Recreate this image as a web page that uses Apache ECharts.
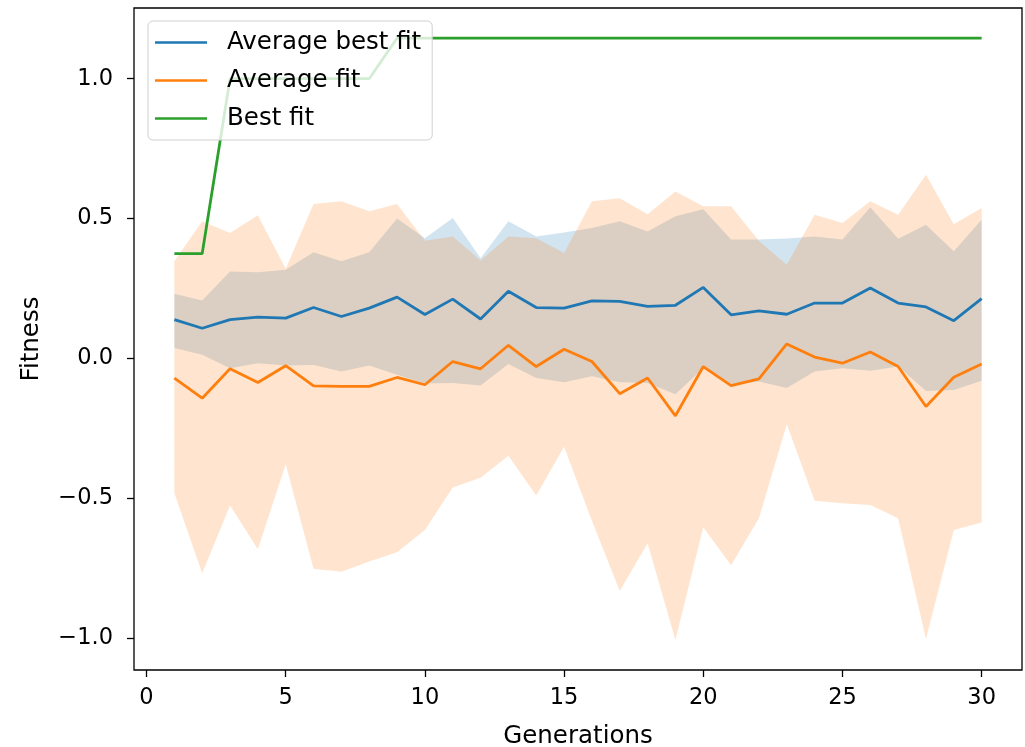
<!DOCTYPE html>
<html>
<head>
<meta charset="utf-8">
<script src="https://cdn.jsdelivr.net/npm/echarts@6/dist/echarts.min.js"></script>
<style>
html,body{margin:0;padding:0;background:#fff;}
#chart{width:1025px;height:747px;}
</style>
</head>
<body>
<div id="chart"></div>
<script>
const generations = [1,2,3,4,5,6,7,8,9,10,11,12,13,14,15,16,17,18,19,20,21,22,23,24,25,26,27,28,29,30];
const avgBest = [0.139,0.108,0.139,0.148,0.144,0.182,0.150,0.180,0.219,0.157,0.212,0.141,0.240,0.182,0.180,0.206,0.204,0.186,0.190,0.254,0.156,0.170,0.158,0.198,0.198,0.252,0.198,0.184,0.135,0.214];
const avgBestHigh = [0.231,0.207,0.311,0.308,0.317,0.380,0.347,0.380,0.500,0.430,0.502,0.358,0.490,0.436,0.450,0.466,0.490,0.454,0.508,0.533,0.425,0.425,0.429,0.436,0.425,0.540,0.428,0.478,0.383,0.496];
const avgBestLow = [0.037,0.013,-0.035,-0.017,-0.025,-0.023,-0.047,-0.025,-0.058,-0.090,-0.088,-0.097,-0.020,-0.070,-0.085,-0.064,-0.085,-0.088,-0.128,-0.035,-0.094,-0.082,-0.106,-0.047,-0.035,-0.044,-0.029,-0.116,-0.113,-0.080];
const avgFit = [-0.070,-0.142,-0.037,-0.086,-0.026,-0.098,-0.100,-0.100,-0.068,-0.094,-0.011,-0.037,0.047,-0.029,0.033,-0.011,-0.126,-0.070,-0.205,-0.029,-0.097,-0.073,0.052,0.005,-0.017,0.023,-0.029,-0.172,-0.067,-0.020];
const avgFitHigh = [0.347,0.490,0.448,0.512,0.321,0.552,0.562,0.526,0.552,0.421,0.436,0.350,0.436,0.430,0.377,0.562,0.573,0.515,0.597,0.544,0.544,0.420,0.335,0.514,0.484,0.562,0.514,0.657,0.480,0.538];
const avgFitLow = [-0.482,-0.768,-0.526,-0.682,-0.378,-0.752,-0.762,-0.726,-0.693,-0.613,-0.461,-0.426,-0.348,-0.490,-0.316,-0.580,-0.831,-0.661,-1.006,-0.603,-0.739,-0.571,-0.235,-0.509,-0.518,-0.524,-0.571,-1.003,-0.613,-0.586];
const bestFit = [0.375,0.375,1.0,1.0,1.0,1.0,1.0,1.0,1.145,1.145,1.145,1.145,1.145,1.145,1.145,1.145,1.145,1.145,1.145,1.145,1.145,1.145,1.145,1.145,1.145,1.145,1.145,1.145,1.145,1.145];
const xTicks = [0,5,10,15,20,25,30];
const yTicks = [-1.0,-0.5,0.0,0.5,1.0];

const BLUE = '#1f77b4', ORANGE = '#ff7f0e', GREEN = '#2ca02c';
const FONT = 'DejaVu Sans';
const pairs = (ys) => generations.map((g, i) => [g, ys[i]]);

// Shaded band between lo and hi, drawn as one polygon through the axis scales
function bandSeries(lo, hi, color, z) {
  return {
    type: 'custom', silent: true, z: z, animation: false,
    data: generations.map((g, i) => [g, lo[i], hi[i]]),
    encode: { x: 0, y: [1, 2] },
    renderItem: function (params, api) {
      if (params.dataIndex !== 0) return null;
      const top = generations.map((g, i) => api.coord([g, hi[i]]));
      const bottom = generations.map((g, i) => api.coord([g, lo[i]])).reverse();
      return {
        type: 'polygon',
        shape: { points: top.concat(bottom) },
        style: { fill: color, opacity: 0.2 }
      };
    }
  };
}

const chart = echarts.init(document.getElementById('chart'), null, { renderer: 'canvas' });
chart.setOption({
  animation: false,
  backgroundColor: '#fff',
  textStyle: { fontFamily: FONT },
  grid: { left: 134, right: 3, top: 8, bottom: 77, containLabel: false, outerBoundsMode: 'none',
    show: true, borderColor: '#000', borderWidth: 1.3, backgroundColor: 'transparent' },
  legend: {
    data: ['Average best fit', 'Average fit', 'Best fit'],
    orient: 'vertical', left: 148, top: 21, z: 20,
    icon: 'rect', itemWidth: 52, itemHeight: 2.7, itemGap: 13,
    padding: [9, 11, 9, 7],
    backgroundColor: 'rgba(255,255,255,0.8)', borderColor: '#d0d0d0', borderWidth: 1, borderRadius: 5,
    textStyle: { fontFamily: FONT, fontSize: 24.5, lineHeight: 25, color: '#000', padding: [0, 0, 0, 15] }
  },
  xAxis: {
    type: 'value', min: -0.45, max: 31.45,
    name: 'Generations', nameLocation: 'middle', nameGap: 54, nameMoveOverlap: false,
    nameTextStyle: { fontFamily: FONT, fontSize: 24.5, color: '#000' },
    axisLine: { show: false, onZero: false },
    splitLine: { show: false },
    axisTick: { show: true, customValues: xTicks, length: 7, lineStyle: { color: '#000', width: 1.3 } },
    axisLabel: { customValues: xTicks, margin: 17, fontFamily: FONT, fontSize: 22.5, color: '#000',
      formatter: (v) => String(v) }
  },
  yAxis: {
    type: 'value', min: -1.1136, max: 1.2526,
    name: 'Fitness', nameLocation: 'middle', nameGap: 90, nameMoveOverlap: false,
    nameTextStyle: { fontFamily: FONT, fontSize: 24.5, color: '#000' },
    axisLine: { show: false, onZero: false },
    splitLine: { show: false },
    axisTick: { show: true, customValues: yTicks, length: 7, lineStyle: { color: '#000', width: 1.3 } },
    axisLabel: { customValues: yTicks, margin: 21, fontFamily: FONT, fontSize: 22.5, color: '#000',
      formatter: (v) => v.toFixed(1).replace('-', '\u2212') }
  },
  series: [
    bandSeries(avgBestLow, avgBestHigh, BLUE, 1),
    bandSeries(avgFitLow, avgFitHigh, ORANGE, 2),
    { name: 'Average best fit', type: 'line', data: pairs(avgBest), symbol: 'none', showSymbol: false, z: 3,
      lineStyle: { color: BLUE, width: 2.8 }, itemStyle: { color: BLUE } },
    { name: 'Average fit', type: 'line', data: pairs(avgFit), symbol: 'none', showSymbol: false, z: 3,
      lineStyle: { color: ORANGE, width: 2.8 }, itemStyle: { color: ORANGE } },
    { name: 'Best fit', type: 'line', data: pairs(bestFit), symbol: 'none', showSymbol: false, z: 3,
      lineStyle: { color: GREEN, width: 2.8 }, itemStyle: { color: GREEN } }
  ]
});
</script>
</body>
</html>
